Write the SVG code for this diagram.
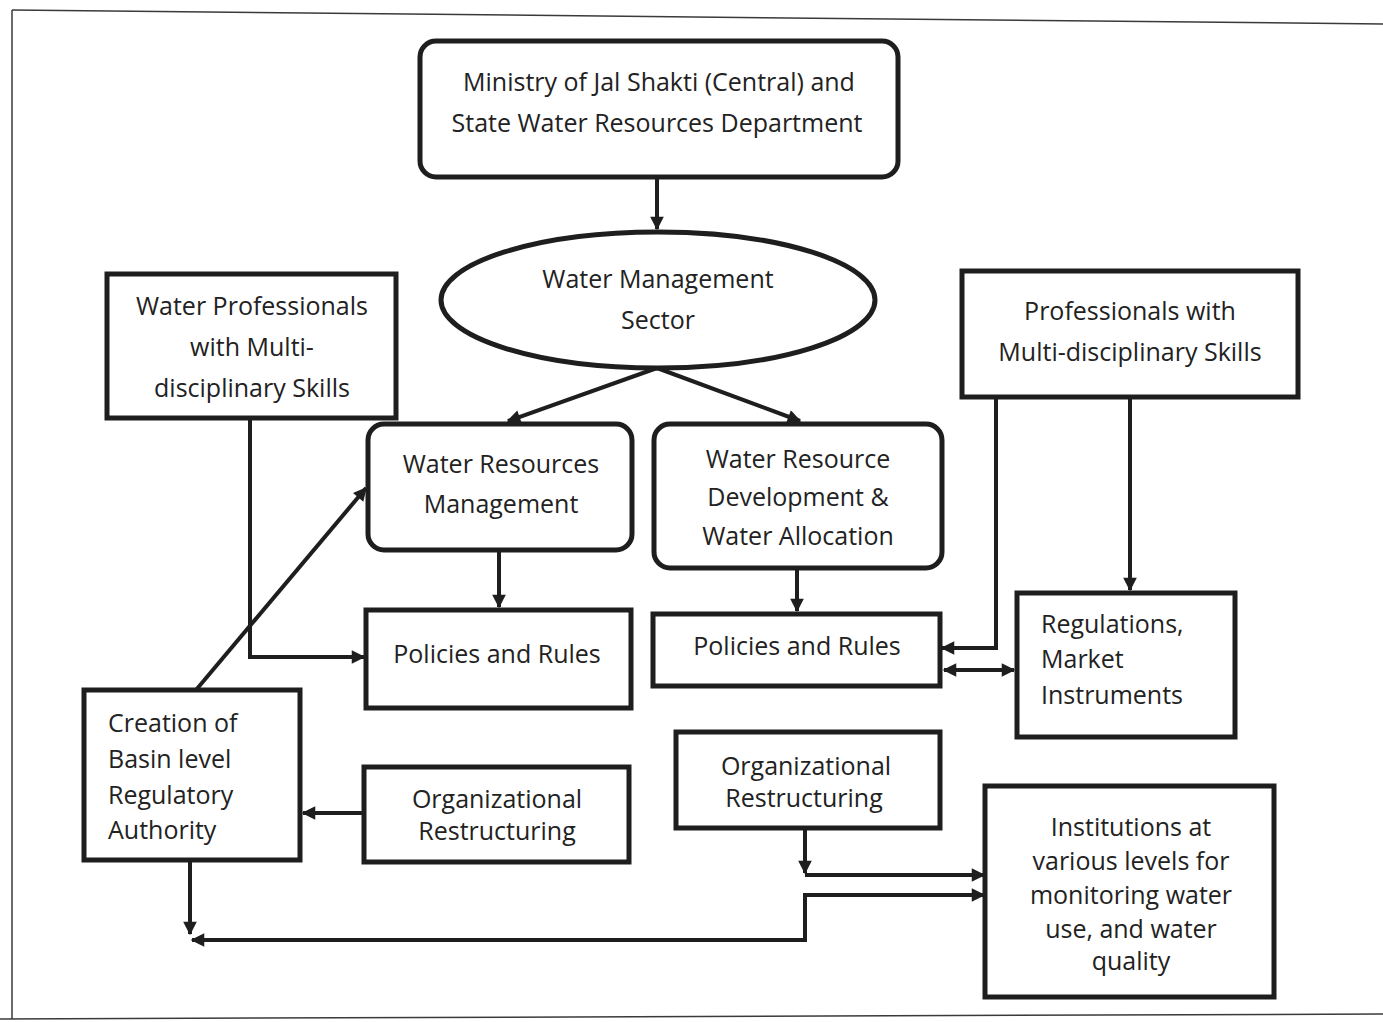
<svg xmlns="http://www.w3.org/2000/svg" width="1383" height="1022" viewBox="0 0 1383 1022">
  <style>
    .box { fill: #fff; stroke: #1e1e1e; stroke-width: 5; }
    .wire { fill: none; stroke: #1e1e1e; stroke-width: 4; }
    .frame { fill: none; stroke: #3a3a3a; stroke-width: 1.5; }
    text { font-family: "Open Sans", "Liberation Sans", sans-serif; font-size: 25px; fill: #222; }
    .c { text-anchor: middle; }
  </style>
  <defs>
    <marker id="arrow" viewBox="0 0 10 10" refX="9" refY="5" markerWidth="3.6" markerHeight="3.4" orient="auto-start-reverse" markerUnits="strokeWidth">
      <path d="M0,0 L10,5 L0,10 z" fill="#1e1e1e"/>
    </marker>
  </defs>

  <rect width="1383" height="1022" fill="#fff"/>
  <!-- page frame -->
  <g id="frame">
    <line class="frame" x1="12" y1="10" x2="1383" y2="24"/>
    <line class="frame" x1="12" y1="10" x2="12" y2="1019"/>
    <line class="frame" x1="0" y1="1019" x2="1383" y2="1014"/>
  </g>

  <!-- connectors -->
  <g id="connectors">
    <line class="wire" x1="657" y1="177" x2="657" y2="229" marker-end="url(#arrow)"/>
    <line class="wire" x1="657" y1="368" x2="508" y2="421" marker-end="url(#arrow)"/>
    <line class="wire" x1="657" y1="368" x2="800" y2="421" marker-end="url(#arrow)"/>
    <line class="wire" x1="499" y1="550" x2="499" y2="607" marker-end="url(#arrow)"/>
    <line class="wire" x1="797" y1="568" x2="797" y2="611" marker-end="url(#arrow)"/>
    <polyline class="wire" points="250,418 250,657 364,657" marker-end="url(#arrow)"/>
    <line class="wire" x1="196" y1="690" x2="366" y2="488" marker-end="url(#arrow)"/>
    <polyline class="wire" points="996,397 996,648 942,648" marker-end="url(#arrow)"/>
    <line class="wire" x1="1130" y1="397" x2="1130" y2="590" marker-end="url(#arrow)"/>
    <line class="wire" x1="944" y1="670" x2="1014" y2="670" marker-start="url(#arrow)" marker-end="url(#arrow)"/>
    <line class="wire" x1="363" y1="813" x2="303" y2="813" marker-end="url(#arrow)"/>
    <line class="wire" x1="805" y1="828" x2="805" y2="873" marker-end="url(#arrow)"/>
    <line class="wire" x1="805" y1="875" x2="984" y2="875" marker-end="url(#arrow)"/>
    <polyline class="wire" points="984,895 805,895 805,940 192,940" marker-start="url(#arrow)" marker-end="url(#arrow)"/>
    <line class="wire" x1="190" y1="860" x2="190" y2="934" marker-end="url(#arrow)"/>
  </g>

  <g id="ministry">
    <rect class="box" x="420" y="41" width="478" height="136" rx="16"/>
    <text class="c" x="659" y="91">Ministry of Jal Shakti (Central) and</text>
    <text class="c" x="657" y="132">State Water Resources Department</text>
  </g>

  <g id="water-management-sector">
    <ellipse class="box" cx="658" cy="300" rx="217" ry="68"/>
    <text class="c" x="658" y="288">Water Management</text>
    <text class="c" x="658" y="329">Sector</text>
  </g>

  <g id="water-professionals">
    <rect class="box" x="107" y="274" width="289" height="144"/>
    <text class="c" x="252" y="315">Water Professionals</text>
    <text class="c" x="252" y="356">with Multi-</text>
    <text class="c" x="252" y="397">disciplinary Skills</text>
  </g>

  <g id="water-resources-management">
    <rect class="box" x="368" y="424" width="264" height="126" rx="16"/>
    <text class="c" x="501" y="473">Water Resources</text>
    <text class="c" x="501" y="513">Management</text>
  </g>

  <g id="water-resource-development">
    <rect class="box" x="654" y="424" width="288" height="144" rx="16"/>
    <text class="c" x="798" y="468">Water Resource</text>
    <text class="c" x="798" y="506">Development &amp;</text>
    <text class="c" x="798" y="545">Water Allocation</text>
  </g>

  <g id="professionals-right">
    <rect class="box" x="962" y="271" width="336" height="126"/>
    <text class="c" x="1130" y="320">Professionals with</text>
    <text class="c" x="1130" y="361">Multi-disciplinary Skills</text>
  </g>

  <g id="policies-left">
    <rect class="box" x="366" y="610" width="265" height="98"/>
    <text class="c" x="497" y="663">Policies and Rules</text>
  </g>

  <g id="policies-right">
    <rect class="box" x="653" y="614" width="287" height="72"/>
    <text class="c" x="797" y="655">Policies and Rules</text>
  </g>

  <g id="regulations">
    <rect class="box" x="1017" y="593" width="218" height="144"/>
    <text x="1041" y="633">Regulations,</text>
    <text x="1041" y="668">Market</text>
    <text x="1041" y="704">Instruments</text>
  </g>

  <g id="basin-authority">
    <rect class="box" x="84" y="690" width="216" height="170"/>
    <text x="108" y="732">Creation of</text>
    <text x="108" y="768">Basin level</text>
    <text x="108" y="804">Regulatory</text>
    <text x="108" y="839">Authority</text>
  </g>

  <g id="restructuring-left">
    <rect class="box" x="364" y="767" width="265" height="95"/>
    <text class="c" x="497" y="808">Organizational</text>
    <text class="c" x="497" y="840">Restructuring</text>
  </g>

  <g id="restructuring-right">
    <rect class="box" x="676" y="732" width="264" height="96"/>
    <text class="c" x="806" y="775">Organizational</text>
    <text class="c" x="804" y="807">Restructuring</text>
  </g>

  <g id="institutions">
    <rect class="box" x="985" y="786" width="289" height="211"/>
    <text class="c" x="1131" y="836">Institutions at</text>
    <text class="c" x="1131" y="870">various levels for</text>
    <text class="c" x="1131" y="904">monitoring water</text>
    <text class="c" x="1131" y="938">use, and water</text>
    <text class="c" x="1131" y="970">quality</text>
  </g>
</svg>
